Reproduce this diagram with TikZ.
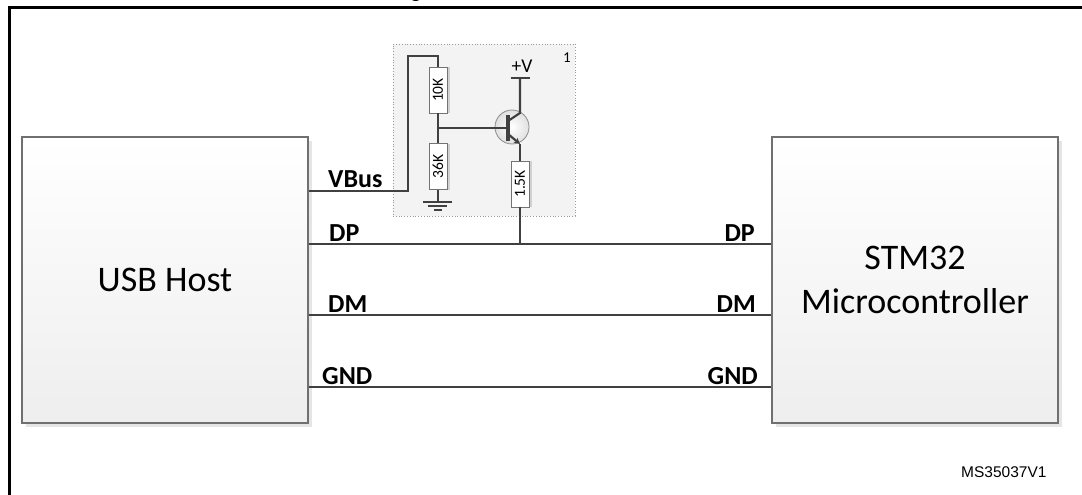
\documentclass[tikz,border=0pt]{standalone}
\usepackage{fontspec}
\setmainfont{Carlito}
\newfontfamily\arialf{Liberation Sans}
\usetikzlibrary{shadows,arrows.meta}
\definecolor{wire}{HTML}{404040}
\definecolor{boxline}{HTML}{707070}
\definecolor{boxshade}{HTML}{EEEEEE}
\definecolor{subfill}{HTML}{F3F3F3}
\tikzset{
  wireline/.style={draw=wire, line width=2.4pt},
  mainbox/.style={draw=boxline, line width=1.4pt, top color=white, bottom color=boxshade,
    minimum width=286pt, minimum height=286pt, inner sep=0pt, align=center,
    font=\fontsize{36}{44}\selectfont,
    drop shadow={shadow xshift=4pt, shadow yshift=-4pt, fill=black!10, opacity=1}},
  sig/.style={font=\bfseries\fontsize{26}{30}\selectfont, inner sep=0pt},
  resist/.style={draw=black!55, line width=0.9pt, fill=white, minimum width=18pt,
    minimum height=46pt, inner sep=0pt,
    drop shadow={shadow xshift=2.5pt, shadow yshift=0pt, fill=black!18, opacity=1}},
  rlabel/.style={rotate=90, font=\fontsize{15.5}{15.5}\selectfont, inner sep=0pt},
  thinwire/.style={draw=wire, line width=2.2pt},
}
\begin{document}
\begin{tikzpicture}[x=1pt,y=-1pt]
\useasboundingbox (0,0) rectangle (1082,495);
\fill[white] (0,0) rectangle (1082,495);
% caption fragment
\node[anchor=base, font=\arialf\bfseries\fontsize{19}{19}\selectfont, inner sep=0pt] (cap) at (416,-2.5) {g};
% outer frame
\draw[black, line width=3pt] (9,500) -- (9,8) -- (1090,8);
% sub-circuit box
\node[draw=black!40, dotted, line width=0.8pt, fill=subfill, minimum width=182pt, minimum height=172pt, inner sep=0pt] (sub) at (484,130) {};
\node[font=\fontsize{15}{15}\selectfont, inner sep=0pt] (one) at (567,58) {1};
% main boxes
\node[mainbox] (usb) at (165,280) {USB Host};
\node[mainbox] (stm) at (915,280) {STM32\\Microcontroller};
% resistors
\node[resist] (r10) at (438,90) {};
\node[rlabel] at (r10) {10K};
\node[resist] (r36) at (438,166.5) {};
\node[rlabel] at (r36) {36K};
\node[resist] (r15) at (520,184) {};
\node[rlabel] at (r15) {1.5K};
% transistor
\node[circle, draw=black!45, line width=0.8pt, inner color=white, outer color=black!12, minimum size=34pt, inner sep=0pt] (q) at (512,127) {};
\coordinate (base) at (508,128);
\coordinate (cdiag) at (508,121);
\coordinate (col) at (520,113);
\coordinate (ediag) at (508,134);
\coordinate (emi) at (520,144);
\coordinate (vplus) at (520,78);
\draw[wire, line width=3.2pt] (508,115) -- (508,141);
\draw[thinwire] (cdiag) -- (col) -- (vplus);
\draw[thinwire, -{Stealth[length=6pt,width=6pt]}] (ediag) -- (emi);
\draw[wire, line width=2.8pt] (510.5,78) -- (530,78);
\node[anchor=base, font=\fontsize{19.5}{19.5}\selectfont, inner sep=0pt] (vtxt) at (522,73) {+V};
\draw[thinwire] (emi) -- (r15.north);
% divider wiring
\coordinate (vb1) at (408,191);
\coordinate (vb2) at (408,56);
\coordinate (vb3) at (438,56);
\coordinate (mid) at (438,128);
\coordinate (gnd) at (438,202);
\draw[wireline] (usb.east |- vb1) -- (vb1) -- (vb2) -- (vb3) -- (r10.north);
\draw[thinwire] (r10.south) -- (r36.north);
\draw[thinwire] (mid) -- (base);
\draw[thinwire] (r36.south) -- (gnd);
\draw[wire, line width=2.4pt] (423,202) -- (452,202);
\draw[wire, line width=2.2pt] (428,206) -- (447,206);
\draw[wire, line width=2pt] (434,210) -- (442,210);
% data lines
\coordinate (dpj) at (520,244);
\draw[wireline] (usb.east |- dpj) -- (stm.west |- dpj);
\draw[thinwire] (r15.south) -- (dpj);
\coordinate (dmy) at (0,315);
\coordinate (gndy) at (0,387);
\draw[wireline] (usb.east |- dmy) -- (stm.west |- dmy);
\draw[wireline] (usb.east |- gndy) -- (stm.west |- gndy);
% signal labels
\node[sig, anchor=base west] (lvbus) at (328,187) {VBus};
\node[sig, anchor=base west] (ldp) at (329,241) {DP};
\node[sig, anchor=base west] (ldm) at (328,312) {DM};
\node[sig, anchor=base west] (lgnd) at (322,384) {GND};
\node[sig, anchor=base east] (rdp) at (755,241) {DP};
\node[sig, anchor=base east] (rdm) at (756,312) {DM};
\node[sig, anchor=base east] (rgnd) at (758,384) {GND};
% reference
\node[anchor=base west, font=\arialf\fontsize{15.5}{15.5}\selectfont, inner sep=0pt] (ms) at (961,477) {MS35037V1};
\end{tikzpicture}
\end{document}
